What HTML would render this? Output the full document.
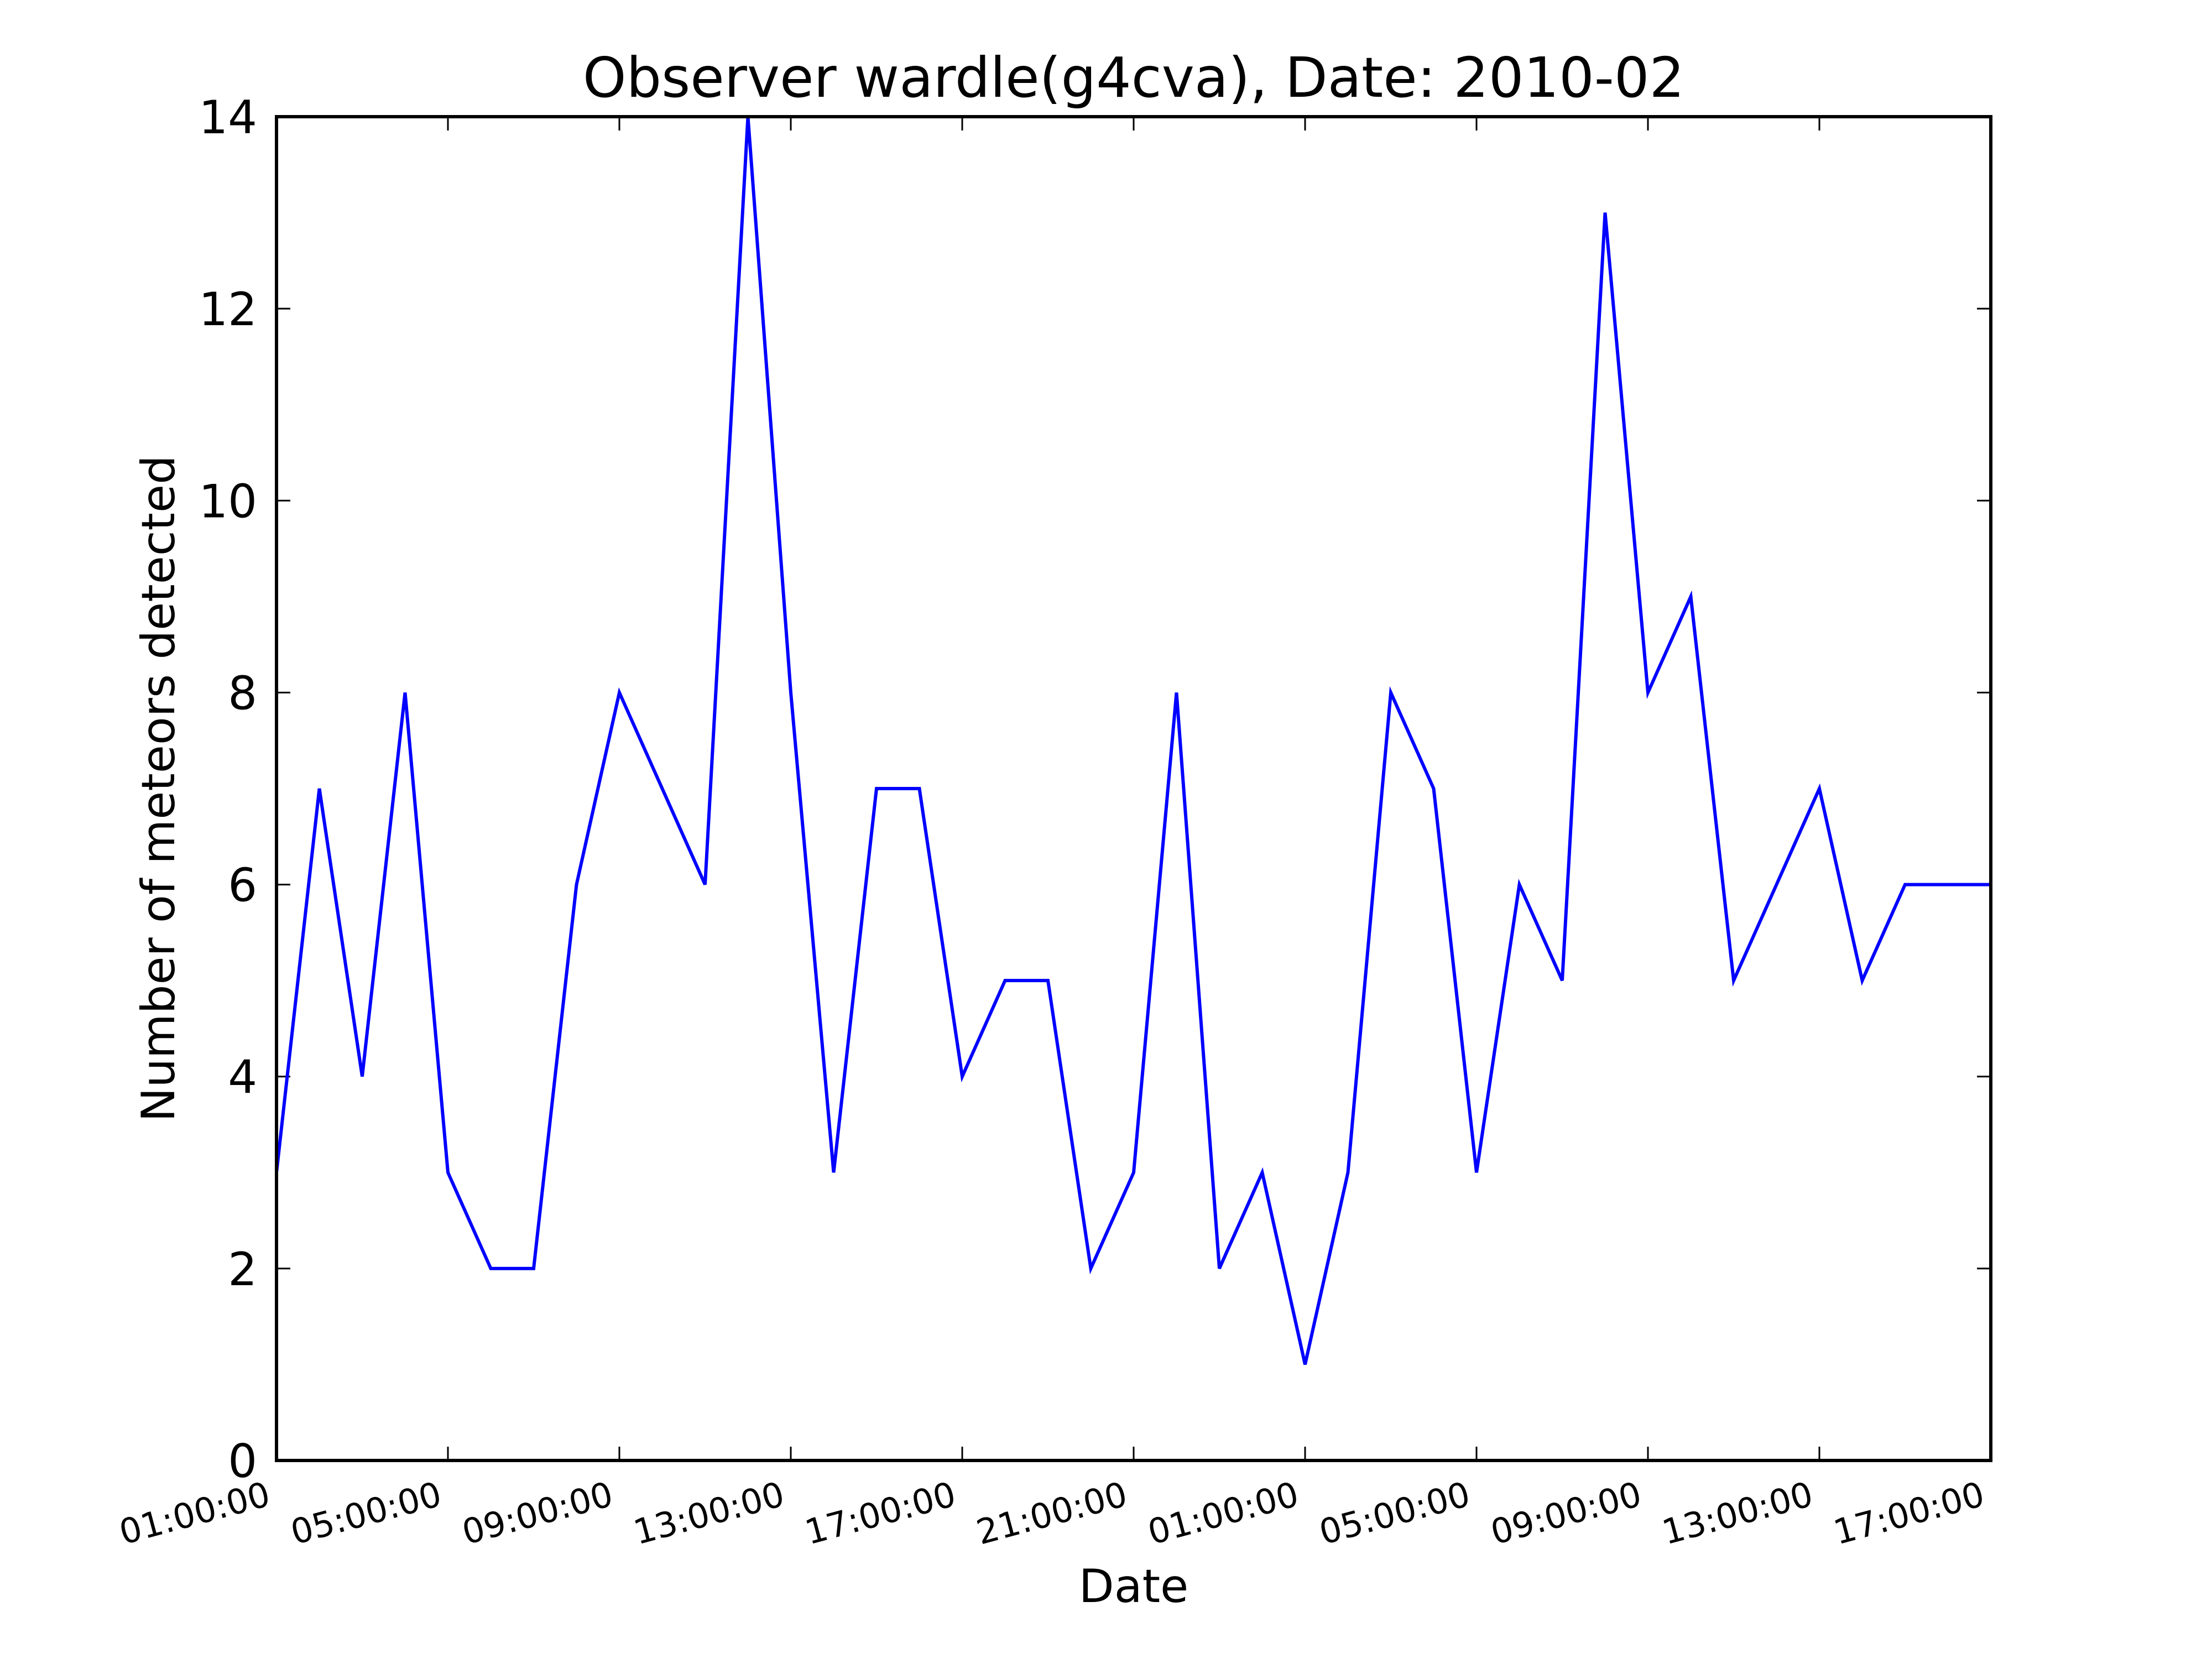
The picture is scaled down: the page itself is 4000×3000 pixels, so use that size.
<!DOCTYPE html>
<html><head><meta charset="utf-8"><style>
html,body{margin:0;padding:0;background:#fff;}
svg{display:block;font-family:"DejaVu Sans","Liberation Sans",sans-serif;}
</style></head><body>
<svg id="chart" width="4000" height="3000" viewBox="0 0 4000 3000" xmlns="http://www.w3.org/2000/svg">
<rect width="4000" height="3000" fill="#fff"/>
<text x="2050" y="175" font-size="100" text-anchor="middle">Observer wardle(g4cva), Date: 2010-02</text>
<text x="2050" y="2897" font-size="83" text-anchor="middle">Date</text>
<text x="0" y="0" font-size="83" text-anchor="middle" transform="translate(315,1426) rotate(-90)">Number of meteors detected</text>
<g id="ticks"></g>
<polyline id="series" fill="none" stroke="#0000ff" stroke-width="6" stroke-linejoin="miter"/>
<rect x="500" y="211" width="3100" height="2430" fill="none" stroke="#000" stroke-width="6"/>
</svg>
<script>
const hours = [0,1,2,3,4,5,6,7,8,9,10,11,12,13,14,15,16,17,18,19,20,21,22,23,24,25,26,27,28,29,30,31,32,33,34,35,36,37,38,39,40];
const counts = [3,7,4,8,3,2,2,6,8,7,6,14,8,3,7,7,4,5,5,2,3,8,2,3,1,3,8,7,3,6,5,13,8,9,5,6,7,5,6,6,6];
const xTickHours = [0,4,8,12,16,20,24,28,32,36,40];
const xTickLabels = ["01:00:00","05:00:00","09:00:00","13:00:00","17:00:00","21:00:00","01:00:00","05:00:00","09:00:00","13:00:00","17:00:00"];
const yTicks = [0,2,4,6,8,10,12,14];

const L=500,R=3600,T=211,B=2641;
function xs(h){return L+(h-0)/(40-0)*(R-L);}
function ys(v){return B-(v-0)/(14-0)*(B-T);}
const NS="http://www.w3.org/2000/svg";
const g=document.getElementById('ticks');
function line(x1,y1,x2,y2,name){
  const l=document.createElementNS(NS,'line');
  l.setAttribute('x1',x1);l.setAttribute('y1',y1);l.setAttribute('x2',x2);l.setAttribute('y2',y2);
  l.setAttribute('stroke','#000');l.setAttribute('stroke-width','3');
  
  
  g.appendChild(l);
}
xTickHours.forEach((h,i)=>{
  const x=xs(h);
  line(x,B,x,B-25,'x-tick-mark');
  line(x,T,x,T+25,'x-tick-mark-top');
  const t=document.createElementNS(NS,'text');
  t.setAttribute('font-size','62');
  t.setAttribute('text-anchor','end');
  t.setAttribute('transform','translate('+(x-8)+','+(B+80)+') rotate(-15)');
  t.textContent=xTickLabels[i];
  
  
  g.appendChild(t);
});
yTicks.forEach(v=>{
  const y=ys(v);
  line(L,y,L+25,y,'y-tick-mark');
  line(R,y,R-25,y,'y-tick-mark-right');
  const t=document.createElementNS(NS,'text');
  t.setAttribute('font-size','83');
  t.setAttribute('text-anchor','end');
  t.setAttribute('x',L-35);
  t.setAttribute('y',y+30);
  t.textContent=String(v);
  
  
  g.appendChild(t);
});
document.getElementById('series').setAttribute('points',hours.map((h,i)=>xs(h)+','+ys(counts[i])).join(' '));
</script>
</body></html>
